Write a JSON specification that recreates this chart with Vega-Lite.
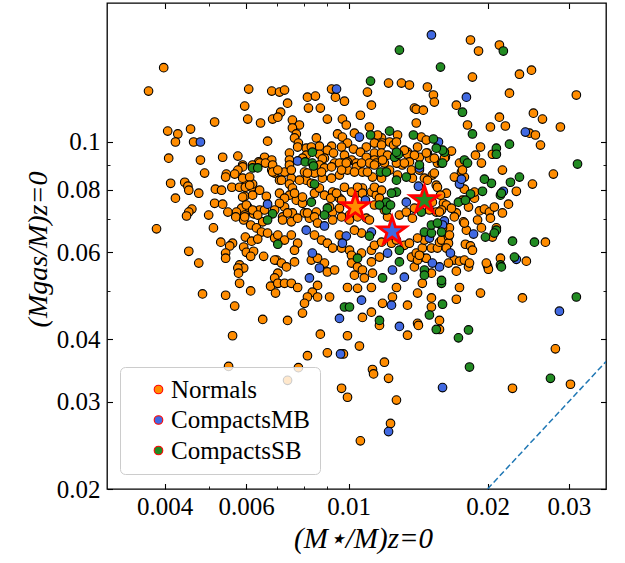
{
  "$schema": "https://vega.github.io/schema/vega-lite/v6.json",
  "width": 499,
  "height": 486,
  "autosize": {"type": "none"},
  "padding": {"left": 107, "top": 3, "right": 19, "bottom": 74},
  "background": "white",
  "datasets": {
    "pts": [
      {"x":0.00398,"y":0.141,"g":"N"},{"x":0.00369,"y":0.1265,"g":"N"},{"x":0.00608,"y":0.1277,"g":"N"},{"x":0.00682,"y":0.1265,"g":"N"},
      {"x":0.00709,"y":0.1259,"g":"N"},{"x":0.00727,"y":0.1271,"g":"N"},{"x":0.00596,"y":0.118,"g":"N"},{"x":0.00605,"y":0.1111,"g":"N"},
      {"x":0.00645,"y":0.1091,"g":"N"},{"x":0.00685,"y":0.1111,"g":"N"},{"x":0.00713,"y":0.1147,"g":"N"},{"x":0.00703,"y":0.1121,"g":"N"},
      {"x":0.00738,"y":0.1196,"g":"N"},{"x":0.00513,"y":0.1096,"g":"N"},{"x":0.00406,"y":0.1051,"g":"N"},{"x":0.00427,"y":0.1037,"g":"N"},
      {"x":0.00455,"y":0.1061,"g":"N"},{"x":0.00422,"y":0.0999,"g":"N"},{"x":0.00462,"y":0.0999,"g":"N"},{"x":0.00668,"y":0.1003,"g":"N"},
      {"x":0.01221,"y":0.1313,"g":"N"},{"x":0.01302,"y":0.1313,"g":"N"},{"x":0.01355,"y":0.1301,"g":"N"},{"x":0.01482,"y":0.1289,"g":"N"},
      {"x":0.01527,"y":0.1242,"g":"N"},{"x":0.01534,"y":0.1202,"g":"N"},{"x":0.01099,"y":0.1259,"g":"N"},{"x":0.01121,"y":0.1185,"g":"N"},
      {"x":0.00919,"y":0.1277,"g":"N"},{"x":0.00937,"y":0.123,"g":"N"},{"x":0.0098,"y":0.1207,"g":"N"},{"x":0.00815,"y":0.123,"g":"N"},
      {"x":0.00848,"y":0.1236,"g":"N"},{"x":0.00819,"y":0.1169,"g":"N"},{"x":0.00869,"y":0.1169,"g":"N"},{"x":0.009,"y":0.1111,"g":"N"},
      {"x":0.01061,"y":0.1131,"g":"N"},{"x":0.0097,"y":0.1111,"g":"N"},{"x":0.00989,"y":0.1081,"g":"N"},{"x":0.01389,"y":0.1169,"g":"N"},
      {"x":0.01402,"y":0.1163,"g":"N"},{"x":0.01452,"y":0.1158,"g":"N"},{"x":0.01402,"y":0.1091,"g":"N"},{"x":0.0111,"y":0.1071,"g":"N"},
      {"x":0.00756,"y":0.1106,"g":"N"},{"x":0.00783,"y":0.1081,"g":"N"},{"x":0.00756,"y":0.1066,"g":"N"},{"x":0.01837,"y":0.1603,"g":"N"},
      {"x":0.01912,"y":0.1523,"g":"N"},{"x":0.02122,"y":0.1566,"g":"N"},{"x":0.01855,"y":0.135,"g":"N"},{"x":0.02345,"y":0.1368,"g":"N"},
      {"x":0.0249,"y":0.1394,"g":"N"},{"x":0.02231,"y":0.1253,"g":"N"},{"x":0.01712,"y":0.1185,"g":"N"},{"x":0.03114,"y":0.1242,"g":"N"},
      {"x":0.02514,"y":0.1142,"g":"N"},{"x":0.0263,"y":0.1111,"g":"N"},{"x":0.02122,"y":0.1121,"g":"N"},{"x":0.02186,"y":0.1076,"g":"N"},
      {"x":0.02029,"y":0.1071,"g":"N"},{"x":0.0181,"y":0.1081,"g":"N"},{"x":0.02876,"y":0.1071,"g":"N"},{"x":0.02465,"y":0.1041,"g":"N"},
      {"x":0.02539,"y":0.1032,"g":"N"},{"x":0.02604,"y":0.0985,"g":"N"},{"x":0.01931,"y":0.0976,"g":"N"},{"x":0.02049,"y":0.0944,"g":"N"},
      {"x":0.01883,"y":0.094,"g":"N"},{"x":0.01671,"y":0.0958,"g":"N"},{"x":0.01621,"y":0.0931,"g":"N"},{"x":0.01739,"y":0.0906,"g":"N"},
      {"x":0.0194,"y":0.0906,"g":"N"},{"x":0.00771,"y":0.1037,"g":"N"},{"x":0.00764,"y":0.1018,"g":"N"},{"x":0.00779,"y":0.0994,"g":"N"},
      {"x":0.00852,"y":0.1018,"g":"N"},{"x":0.00947,"y":0.1037,"g":"N"},{"x":0.0097,"y":0.1022,"g":"N"},{"x":0.00995,"y":0.0994,"g":"N"},
      {"x":0.0103,"y":0.1041,"g":"N"},{"x":0.01277,"y":0.1032,"g":"N"},{"x":0.01438,"y":0.1022,"g":"N"},{"x":0.01179,"y":0.1018,"g":"N"},
      {"x":0.01185,"y":0.0994,"g":"N"},{"x":0.01227,"y":0.0999,"g":"N"},{"x":0.01138,"y":0.0994,"g":"N"},{"x":0.01179,"y":0.0985,"g":"N"},
      {"x":0.01252,"y":0.0985,"g":"N"},{"x":0.01342,"y":0.0953,"g":"N"},{"x":0.01411,"y":0.0976,"g":"N"},{"x":0.01424,"y":0.0931,"g":"N"},
      {"x":0.01482,"y":0.0949,"g":"N"},{"x":0.01497,"y":0.0927,"g":"N"},{"x":0.01093,"y":0.0976,"g":"N"},{"x":0.01025,"y":0.0967,"g":"N"},
      {"x":0.01061,"y":0.0953,"g":"N"},{"x":0.01093,"y":0.0931,"g":"N"},{"x":0.00966,"y":0.0976,"g":"N"},{"x":0.0098,"y":0.094,"g":"N"},
      {"x":0.00919,"y":0.098,"g":"N"},{"x":0.009,"y":0.0962,"g":"N"},{"x":0.00928,"y":0.0949,"g":"N"},{"x":0.00865,"y":0.098,"g":"N"},
      {"x":0.00865,"y":0.0944,"g":"N"},{"x":0.00887,"y":0.0927,"g":"N"},{"x":0.0081,"y":0.0971,"g":"N"},{"x":0.00831,"y":0.0976,"g":"N"},
      {"x":0.0081,"y":0.094,"g":"N"},{"x":0.00795,"y":0.0927,"g":"N"},{"x":0.00776,"y":0.0976,"g":"N"},{"x":0.00745,"y":0.0949,"g":"N"},
      {"x":0.00878,"y":0.0923,"g":"N"},{"x":0.00933,"y":0.0906,"g":"N"},{"x":0.0097,"y":0.0906,"g":"N"},{"x":0.01015,"y":0.0919,"g":"N"},
      {"x":0.0104,"y":0.0906,"g":"N"},{"x":0.01138,"y":0.0949,"g":"N"},{"x":0.01179,"y":0.0949,"g":"N"},{"x":0.01215,"y":0.094,"g":"N"},
      {"x":0.01342,"y":0.0944,"g":"N"},{"x":0.01389,"y":0.094,"g":"N"},{"x":0.01138,"y":0.0919,"g":"N"},{"x":0.01196,"y":0.0906,"g":"N"},
      {"x":0.01277,"y":0.0906,"g":"N"},{"x":0.01355,"y":0.0911,"g":"N"},{"x":0.01558,"y":0.0906,"g":"N"},{"x":0.01156,"y":0.1032,"g":"N"},
      {"x":0.0127,"y":0.0999,"g":"N"},{"x":0.01321,"y":0.0962,"g":"N"},{"x":0.01474,"y":0.1008,"g":"N"},{"x":0.01534,"y":0.0927,"g":"N"},
      {"x":0.00408,"y":0.0927,"g":"N"},{"x":0.00478,"y":0.0919,"g":"N"},{"x":0.00534,"y":0.0931,"g":"N"},{"x":0.00576,"y":0.0936,"g":"N"},
      {"x":0.00658,"y":0.0931,"g":"N"},{"x":0.00639,"y":0.0911,"g":"N"},{"x":0.00682,"y":0.0919,"g":"N"},{"x":0.0062,"y":0.0898,"g":"N"},
      {"x":0.0059,"y":0.0898,"g":"N"},{"x":0.00745,"y":0.0919,"g":"N"},{"x":0.0059,"y":0.089,"g":"N"},{"x":0.00576,"y":0.0877,"g":"N"},
      {"x":0.00642,"y":0.0906,"g":"N"},{"x":0.00661,"y":0.0906,"g":"N"},{"x":0.00682,"y":0.0877,"g":"N"},{"x":0.00692,"y":0.0865,"g":"N"},
      {"x":0.00488,"y":0.0865,"g":"N"},{"x":0.00544,"y":0.0861,"g":"N"},{"x":0.00542,"y":0.0849,"g":"N"},{"x":0.00567,"y":0.0861,"g":"N"},
      {"x":0.00601,"y":0.0833,"g":"N"},{"x":0.00412,"y":0.0825,"g":"N"},{"x":0.00442,"y":0.0829,"g":"N"},{"x":0.00449,"y":0.0814,"g":"N"},
      {"x":0.00451,"y":0.0799,"g":"N"},{"x":0.00474,"y":0.0788,"g":"N"},{"x":0.00515,"y":0.0803,"g":"N"},{"x":0.00531,"y":0.0799,"g":"N"},
      {"x":0.00559,"y":0.081,"g":"N"},{"x":0.00581,"y":0.081,"g":"N"},{"x":0.00598,"y":0.081,"g":"N"},{"x":0.00617,"y":0.081,"g":"N"},
      {"x":0.0062,"y":0.0822,"g":"N"},{"x":0.00596,"y":0.0777,"g":"N"},{"x":0.00664,"y":0.0777,"g":"N"},{"x":0.00709,"y":0.0837,"g":"N"},
      {"x":0.00422,"y":0.077,"g":"N"},{"x":0.00513,"y":0.0752,"g":"N"},{"x":0.00534,"y":0.0749,"g":"N"},{"x":0.00605,"y":0.0739,"g":"N"},
      {"x":0.00587,"y":0.0735,"g":"N"},{"x":0.00572,"y":0.0722,"g":"N"},{"x":0.00548,"y":0.0722,"g":"N"},{"x":0.00458,"y":0.0732,"g":"N"},
      {"x":0.00451,"y":0.0722,"g":"N"},{"x":0.00446,"y":0.0709,"g":"N"},{"x":0.00498,"y":0.0712,"g":"N"},{"x":0.0057,"y":0.0706,"g":"N"},
      {"x":0.00596,"y":0.0712,"g":"N"},{"x":0.00623,"y":0.0716,"g":"N"},{"x":0.00642,"y":0.0729,"g":"N"},{"x":0.00658,"y":0.0729,"g":"N"},
      {"x":0.00593,"y":0.0696,"g":"N"},{"x":0.00614,"y":0.068,"g":"N"},{"x":0.00632,"y":0.0671,"g":"N"},{"x":0.00652,"y":0.069,"g":"N"},
      {"x":0.00384,"y":0.0668,"g":"N"},{"x":0.0051,"y":0.0671,"g":"N"},{"x":0.00648,"y":0.0658,"g":"N"},{"x":0.00668,"y":0.0655,"g":"N"},
      {"x":0.00692,"y":0.064,"g":"N"},{"x":0.00598,"y":0.0643,"g":"N"},{"x":0.00617,"y":0.0631,"g":"N"},{"x":0.00636,"y":0.0637,"g":"N"},
      {"x":0.00529,"y":0.0628,"g":"N"},{"x":0.00561,"y":0.0625,"g":"N"},{"x":0.00553,"y":0.0617,"g":"N"},{"x":0.00593,"y":0.0614,"g":"N"},
      {"x":0.00601,"y":0.0599,"g":"N"},{"x":0.00623,"y":0.0602,"g":"N"},{"x":0.00451,"y":0.0602,"g":"N"},{"x":0.00542,"y":0.0597,"g":"N"},
      {"x":0.00542,"y":0.0583,"g":"N"},{"x":0.00614,"y":0.0588,"g":"N"},{"x":0.00655,"y":0.0588,"g":"N"},{"x":0.00699,"y":0.0578,"g":"N"},
      {"x":0.00474,"y":0.057,"g":"N"},{"x":0.00581,"y":0.0565,"g":"N"},{"x":0.00593,"y":0.0557,"g":"N"},{"x":0.00576,"y":0.0557,"g":"N"},
      {"x":0.00578,"y":0.0544,"g":"N"},{"x":0.00581,"y":0.0519,"g":"N"},{"x":0.00678,"y":0.0512,"g":"N"},{"x":0.00703,"y":0.0519,"g":"N"},
      {"x":0.00483,"y":0.0494,"g":"N"},{"x":0.00542,"y":0.0491,"g":"N"},{"x":0.00614,"y":0.0501,"g":"N"},{"x":0.00695,"y":0.0496,"g":"N"},
      {"x":0.00567,"y":0.0467,"g":"N"},{"x":0.00652,"y":0.0439,"g":"N"},{"x":0.00685,"y":0.0898,"g":"N"},{"x":0.00685,"y":0.0869,"g":"N"},
      {"x":0.00727,"y":0.0869,"g":"N"},{"x":0.00745,"y":0.0898,"g":"N"},{"x":0.00752,"y":0.0845,"g":"N"},{"x":0.00745,"y":0.0822,"g":"N"},
      {"x":0.00756,"y":0.0807,"g":"N"},{"x":0.00716,"y":0.0837,"g":"N"},{"x":0.00803,"y":0.0869,"g":"N"},{"x":0.0081,"y":0.0837,"g":"N"},
      {"x":0.00831,"y":0.0825,"g":"N"},{"x":0.00844,"y":0.0865,"g":"N"},{"x":0.00865,"y":0.0898,"g":"N"},{"x":0.00887,"y":0.0886,"g":"N"},
      {"x":0.00919,"y":0.089,"g":"N"},{"x":0.00956,"y":0.0906,"g":"N"},{"x":0.00995,"y":0.0911,"g":"N"},{"x":0.00878,"y":0.0845,"g":"N"},
      {"x":0.00919,"y":0.0845,"g":"N"},{"x":0.00956,"y":0.0857,"g":"N"},{"x":0.00995,"y":0.0877,"g":"N"},{"x":0.0104,"y":0.089,"g":"N"},
      {"x":0.01072,"y":0.0869,"g":"N"},{"x":0.0111,"y":0.0906,"g":"N"},{"x":0.01149,"y":0.0906,"g":"N"},{"x":0.01185,"y":0.0919,"g":"N"},
      {"x":0.01127,"y":0.0849,"g":"N"},{"x":0.01179,"y":0.0845,"g":"N"},{"x":0.01308,"y":0.0898,"g":"N"},{"x":0.01375,"y":0.0845,"g":"N"},
      {"x":0.0146,"y":0.0845,"g":"N"},{"x":0.01519,"y":0.0857,"g":"N"},{"x":0.01549,"y":0.0818,"g":"N"},{"x":0.0059,"y":0.0845,"g":"N"},
      {"x":0.00611,"y":0.0849,"g":"N"},{"x":0.00611,"y":0.0818,"g":"N"},{"x":0.00642,"y":0.0799,"g":"N"},{"x":0.0062,"y":0.0781,"g":"N"},
      {"x":0.0059,"y":0.0774,"g":"N"},{"x":0.00745,"y":0.0781,"g":"N"},{"x":0.00771,"y":0.0763,"g":"N"},{"x":0.00795,"y":0.0752,"g":"N"},
      {"x":0.00887,"y":0.0781,"g":"N"},{"x":0.00924,"y":0.0792,"g":"N"},{"x":0.00956,"y":0.077,"g":"N"},{"x":0.00852,"y":0.0722,"g":"N"},
      {"x":0.00924,"y":0.0722,"g":"N"},{"x":0.00956,"y":0.0735,"g":"N"},{"x":0.01005,"y":0.0712,"g":"N"},{"x":0.01121,"y":0.0792,"g":"N"},
      {"x":0.01149,"y":0.0781,"g":"N"},{"x":0.01072,"y":0.0807,"g":"N"},{"x":0.0104,"y":0.0788,"g":"N"},{"x":0.01215,"y":0.0706,"g":"N"},
      {"x":0.01289,"y":0.0712,"g":"N"},{"x":0.01334,"y":0.0722,"g":"N"},{"x":0.01093,"y":0.0702,"g":"N"},{"x":0.01389,"y":0.0735,"g":"N"},
      {"x":0.01375,"y":0.0702,"g":"N"},{"x":0.01519,"y":0.0756,"g":"N"},{"x":0.01549,"y":0.0722,"g":"N"},{"x":0.00601,"y":0.0746,"g":"N"},
      {"x":0.0062,"y":0.0729,"g":"N"},{"x":0.00596,"y":0.0706,"g":"N"},{"x":0.00636,"y":0.0712,"g":"N"},{"x":0.00727,"y":0.0739,"g":"N"},
      {"x":0.0072,"y":0.0706,"g":"N"},{"x":0.00756,"y":0.0719,"g":"N"},{"x":0.00803,"y":0.0719,"g":"N"},{"x":0.00823,"y":0.0702,"g":"N"},
      {"x":0.00703,"y":0.0877,"g":"N"},{"x":0.00752,"y":0.0877,"g":"N"},{"x":0.00783,"y":0.0837,"g":"N"},{"x":0.00815,"y":0.0865,"g":"N"},
      {"x":0.00874,"y":0.0869,"g":"N"},{"x":0.00966,"y":0.0877,"g":"N"},{"x":0.00989,"y":0.0906,"g":"N"},{"x":0.0103,"y":0.0869,"g":"N"},
      {"x":0.01067,"y":0.0906,"g":"N"},{"x":0.01099,"y":0.0869,"g":"N"},{"x":0.01138,"y":0.0898,"g":"N"},{"x":0.01227,"y":0.0877,"g":"N"},
      {"x":0.0127,"y":0.0906,"g":"N"},{"x":0.01277,"y":0.0857,"g":"N"},{"x":0.01321,"y":0.0906,"g":"N"},{"x":0.01369,"y":0.0877,"g":"N"},
      {"x":0.01424,"y":0.0877,"g":"N"},{"x":0.01482,"y":0.0837,"g":"N"},{"x":0.01558,"y":0.081,"g":"N"},{"x":0.01534,"y":0.0865,"g":"N"},
      {"x":0.0159,"y":0.0906,"g":"N"},{"x":0.00709,"y":0.0788,"g":"N"},{"x":0.00727,"y":0.077,"g":"N"},{"x":0.00709,"y":0.0752,"g":"N"},
      {"x":0.00692,"y":0.0729,"g":"N"},{"x":0.00764,"y":0.0788,"g":"N"},{"x":0.00795,"y":0.0774,"g":"N"},{"x":0.00915,"y":0.077,"g":"N"},
      {"x":0.00942,"y":0.0788,"g":"N"},{"x":0.00966,"y":0.0763,"g":"N"},{"x":0.0091,"y":0.0739,"g":"N"},{"x":0.00844,"y":0.0788,"g":"N"},
      {"x":0.00865,"y":0.0807,"g":"N"},{"x":0.0098,"y":0.081,"g":"N"},{"x":0.01015,"y":0.0792,"g":"N"},{"x":0.01046,"y":0.081,"g":"N"},
      {"x":0.01072,"y":0.0788,"g":"N"},{"x":0.01138,"y":0.081,"g":"N"},{"x":0.01179,"y":0.0799,"g":"N"},{"x":0.01138,"y":0.0746,"g":"N"},
      {"x":0.01167,"y":0.077,"g":"N"},{"x":0.01196,"y":0.0729,"g":"N"},{"x":0.00738,"y":0.0719,"g":"N"},{"x":0.0072,"y":0.0696,"g":"N"},
      {"x":0.00752,"y":0.069,"g":"N"},{"x":0.00776,"y":0.0702,"g":"N"},{"x":0.00815,"y":0.0719,"g":"N"},{"x":0.00844,"y":0.0706,"g":"N"},
      {"x":0.00857,"y":0.0686,"g":"N"},{"x":0.00924,"y":0.0696,"g":"N"},{"x":0.00966,"y":0.0706,"g":"N"},{"x":0.01005,"y":0.0696,"g":"N"},
      {"x":0.01046,"y":0.0706,"g":"N"},{"x":0.0111,"y":0.0696,"g":"N"},{"x":0.01067,"y":0.0655,"g":"N"},{"x":0.0103,"y":0.0664,"g":"N"},
      {"x":0.00956,"y":0.0649,"g":"N"},{"x":0.00703,"y":0.0649,"g":"N"},{"x":0.00727,"y":0.0634,"g":"N"},{"x":0.00752,"y":0.0649,"g":"N"},
      {"x":0.00776,"y":0.0625,"g":"N"},{"x":0.00764,"y":0.0605,"g":"N"},{"x":0.00844,"y":0.0649,"g":"N"},{"x":0.00874,"y":0.0634,"g":"N"},
      {"x":0.009,"y":0.0625,"g":"N"},{"x":0.00924,"y":0.0611,"g":"N"},{"x":0.00966,"y":0.0611,"g":"N"},{"x":0.01005,"y":0.0605,"g":"N"},
      {"x":0.01015,"y":0.0591,"g":"N"},{"x":0.01067,"y":0.0597,"g":"N"},{"x":0.01121,"y":0.0605,"g":"N"},{"x":0.01138,"y":0.0619,"g":"N"},
      {"x":0.01179,"y":0.0628,"g":"N"},{"x":0.01239,"y":0.0625,"g":"N"},{"x":0.0127,"y":0.0634,"g":"N"},{"x":0.01321,"y":0.0619,"g":"N"},
      {"x":0.01355,"y":0.0625,"g":"N"},{"x":0.01369,"y":0.0586,"g":"N"},{"x":0.01402,"y":0.0597,"g":"N"},{"x":0.01438,"y":0.0586,"g":"N"},
      {"x":0.01445,"y":0.0611,"g":"N"},{"x":0.01512,"y":0.0611,"g":"N"},{"x":0.01558,"y":0.0611,"g":"N"},{"x":0.01574,"y":0.0628,"g":"N"},
      {"x":0.0146,"y":0.0634,"g":"N"},{"x":0.01411,"y":0.064,"g":"N"},{"x":0.01389,"y":0.056,"g":"N"},{"x":0.01411,"y":0.0578,"g":"N"},
      {"x":0.01512,"y":0.0544,"g":"N"},{"x":0.01445,"y":0.0519,"g":"N"},{"x":0.00692,"y":0.0578,"g":"N"},{"x":0.00716,"y":0.057,"g":"N"},
      {"x":0.00734,"y":0.056,"g":"N"},{"x":0.00703,"y":0.0544,"g":"N"},{"x":0.00692,"y":0.0532,"g":"N"},{"x":0.00764,"y":0.0573,"g":"N"},
      {"x":0.00831,"y":0.0578,"g":"N"},{"x":0.00857,"y":0.0583,"g":"N"},{"x":0.00887,"y":0.057,"g":"N"},{"x":0.009,"y":0.0547,"g":"N"},
      {"x":0.00933,"y":0.0552,"g":"N"},{"x":0.01015,"y":0.057,"g":"N"},{"x":0.01046,"y":0.056,"g":"N"},{"x":0.01072,"y":0.0552,"g":"N"},
      {"x":0.0103,"y":0.0539,"g":"N"},{"x":0.01082,"y":0.0532,"g":"N"},{"x":0.01127,"y":0.0544,"g":"N"},{"x":0.01121,"y":0.0573,"g":"N"},
      {"x":0.01167,"y":0.0586,"g":"N"},{"x":0.00703,"y":0.0519,"g":"N"},{"x":0.00727,"y":0.0519,"g":"N"},{"x":0.00752,"y":0.0519,"g":"N"},
      {"x":0.00776,"y":0.0509,"g":"N"},{"x":0.00857,"y":0.0514,"g":"N"},{"x":0.00835,"y":0.0498,"g":"N"},{"x":0.00815,"y":0.0487,"g":"N"},
      {"x":0.00857,"y":0.0487,"g":"N"},{"x":0.0091,"y":0.0487,"g":"N"},{"x":0.00803,"y":0.0473,"g":"N"},{"x":0.00795,"y":0.0452,"g":"N"},
      {"x":0.00738,"y":0.0437,"g":"N"},{"x":0.00995,"y":0.0509,"g":"N"},{"x":0.01046,"y":0.0507,"g":"N"},{"x":0.01121,"y":0.0509,"g":"N"},
      {"x":0.0127,"y":0.0509,"g":"N"},{"x":0.01072,"y":0.0443,"g":"N"},{"x":0.01121,"y":0.0454,"g":"N"},{"x":0.01185,"y":0.0473,"g":"N"},
      {"x":0.01245,"y":0.0487,"g":"N"},{"x":0.01342,"y":0.0469,"g":"N"},{"x":0.01411,"y":0.0431,"g":"N"},{"x":0.01512,"y":0.0465,"g":"N"},
      {"x":0.01411,"y":0.0496,"g":"N"},{"x":0.01512,"y":0.0485,"g":"N"},{"x":0.02777,"y":0.0861,"g":"N"},{"x":0.02502,"y":0.0822,"g":"N"},
      {"x":0.02309,"y":0.0795,"g":"N"},{"x":0.02154,"y":0.0877,"g":"N"},{"x":0.0222,"y":0.0749,"g":"N"},{"x":0.01756,"y":0.0869,"g":"N"},
      {"x":0.01695,"y":0.0849,"g":"N"},{"x":0.01782,"y":0.0803,"g":"N"},{"x":0.01874,"y":0.077,"g":"N"},{"x":0.01765,"y":0.0763,"g":"N"},
      {"x":0.01629,"y":0.0788,"g":"N"},{"x":0.01605,"y":0.0752,"g":"N"},{"x":0.01629,"y":0.0746,"g":"N"},{"x":0.0159,"y":0.0729,"g":"N"},
      {"x":0.01819,"y":0.0739,"g":"N"},{"x":0.01921,"y":0.0726,"g":"N"},{"x":0.01969,"y":0.0732,"g":"N"},{"x":0.02019,"y":0.0722,"g":"N"},
      {"x":0.02069,"y":0.0739,"g":"N"},{"x":0.02029,"y":0.0702,"g":"N"},{"x":0.02154,"y":0.0719,"g":"N"},{"x":0.01712,"y":0.0719,"g":"N"},
      {"x":0.01695,"y":0.0706,"g":"N"},{"x":0.01654,"y":0.0671,"g":"N"},{"x":0.01774,"y":0.069,"g":"N"},{"x":0.018,"y":0.0664,"g":"N"},
      {"x":0.0209,"y":0.0671,"g":"N"},{"x":0.02049,"y":0.0643,"g":"N"},{"x":0.02669,"y":0.0628,"g":"N"},{"x":0.0159,"y":0.0634,"g":"N"},
      {"x":0.01646,"y":0.0643,"g":"N"},{"x":0.01646,"y":0.0625,"g":"N"},{"x":0.01629,"y":0.0611,"g":"N"},{"x":0.01791,"y":0.0622,"g":"N"},
      {"x":0.01837,"y":0.0617,"g":"N"},{"x":0.01855,"y":0.0605,"g":"N"},{"x":0.01695,"y":0.0578,"g":"N"},{"x":0.01739,"y":0.0575,"g":"N"},
      {"x":0.01646,"y":0.057,"g":"N"},{"x":0.01712,"y":0.0549,"g":"N"},{"x":0.01819,"y":0.056,"g":"N"},{"x":0.02,"y":0.0562,"g":"N"},
      {"x":0.02009,"y":0.0554,"g":"N"},{"x":0.02133,"y":0.0583,"g":"N"},{"x":0.02427,"y":0.0575,"g":"N"},{"x":0.01739,"y":0.0509,"g":"N"},
      {"x":0.01931,"y":0.0496,"g":"N"},{"x":0.01712,"y":0.0482,"g":"N"},{"x":0.0238,"y":0.0485,"g":"N"},{"x":0.01574,"y":0.0437,"g":"N"},
      {"x":0.01782,"y":0.0849,"g":"N"},{"x":0.01765,"y":0.0877,"g":"N"},{"x":0.01874,"y":0.0792,"g":"N"},{"x":0.01903,"y":0.0696,"g":"N"},
      {"x":0.0194,"y":0.0671,"g":"N"},{"x":0.01782,"y":0.0686,"g":"N"},{"x":0.01782,"y":0.0578,"g":"N"},{"x":0.01828,"y":0.057,"g":"N"},
      {"x":0.01988,"y":0.057,"g":"N"},{"x":0.01474,"y":0.0949,"g":"N"},{"x":0.01613,"y":0.0927,"g":"N"},{"x":0.01582,"y":0.0781,"g":"N"},
      {"x":0.01671,"y":0.0735,"g":"N"},{"x":0.01497,"y":0.0729,"g":"N"},{"x":0.01574,"y":0.0722,"g":"N"},{"x":0.01598,"y":0.0671,"g":"N"},
      {"x":0.01654,"y":0.0649,"g":"N"},{"x":0.01474,"y":0.0583,"g":"N"},{"x":0.01424,"y":0.0591,"g":"N"},{"x":0.00561,"y":0.0407,"g":"N"},
      {"x":0.0055,"y":0.0353,"g":"N"},{"x":0.00738,"y":0.0331,"g":"N"},{"x":0.00779,"y":0.0351,"g":"N"},{"x":0.00815,"y":0.0371,"g":"N"},
      {"x":0.00869,"y":0.041,"g":"N"},{"x":0.009,"y":0.0376,"g":"N"},{"x":0.00975,"y":0.0374,"g":"N"},{"x":0.00995,"y":0.0407,"g":"N"},
      {"x":0.01056,"y":0.0388,"g":"N"},{"x":0.01167,"y":0.0427,"g":"N"},{"x":0.01342,"y":0.0408,"g":"N"},{"x":0.01417,"y":0.0427,"g":"N"},
      {"x":0.01127,"y":0.0348,"g":"N"},{"x":0.01133,"y":0.0341,"g":"N"},{"x":0.01196,"y":0.036,"g":"N"},{"x":0.01221,"y":0.0334,"g":"N"},
      {"x":0.00966,"y":0.0319,"g":"N"},{"x":0.00995,"y":0.0306,"g":"N"},{"x":0.0127,"y":0.0302,"g":"N"},{"x":0.01233,"y":0.0271,"g":"N"},
      {"x":0.01061,"y":0.025,"g":"N"},{"x":0.01574,"y":0.0419,"g":"N"},{"x":0.02265,"y":0.0319,"g":"N"},{"x":0.02805,"y":0.0383,"g":"N"},
      {"x":0.03024,"y":0.0325,"g":"N"},
      {"x":0.00478,"y":0.0999,"g":"MB"},{"x":0.01512,"y":0.1641,"g":"MB"},{"x":0.00942,"y":0.1277,"g":"MB"},{"x":0.018,"y":0.123,"g":"MB"},
      {"x":0.01056,"y":0.1022,"g":"MB"},{"x":0.01566,"y":0.0999,"g":"MB"},{"x":0.00776,"y":0.0915,"g":"MB"},{"x":0.00668,"y":0.0749,"g":"MB"},
      {"x":0.02415,"y":0.1046,"g":"MB"},{"x":0.01739,"y":0.0822,"g":"MB"},{"x":0.01756,"y":0.0841,"g":"MB"},{"x":0.02164,"y":0.0795,"g":"MB"},
      {"x":0.01613,"y":0.0693,"g":"MB"},{"x":0.01598,"y":0.068,"g":"MB"},{"x":0.01865,"y":0.0652,"g":"MB"},{"x":0.01662,"y":0.0597,"g":"MB"},
      {"x":0.01574,"y":0.056,"g":"MB"},{"x":0.02309,"y":0.058,"g":"MB"},{"x":0.02862,"y":0.0456,"g":"MB"},{"x":0.01424,"y":0.0886,"g":"MB"},
      {"x":0.01417,"y":0.0814,"g":"MB"},{"x":0.01334,"y":0.0756,"g":"MB"},{"x":0.01088,"y":0.0763,"g":"MB"},{"x":0.0081,"y":0.0664,"g":"MB"},
      {"x":0.00887,"y":0.0677,"g":"MB"},{"x":0.01121,"y":0.0658,"g":"MB"},{"x":0.00989,"y":0.0646,"g":"MB"},{"x":0.0097,"y":0.0625,"g":"MB"},
      {"x":0.00835,"y":0.0597,"g":"MB"},{"x":0.01215,"y":0.0597,"g":"MB"},{"x":0.01245,"y":0.0552,"g":"MB"},{"x":0.01321,"y":0.0534,"g":"MB"},
      {"x":0.01497,"y":0.064,"g":"MB"},{"x":0.01519,"y":0.057,"g":"MB"},{"x":0.00865,"y":0.0557,"g":"MB"},{"x":0.00823,"y":0.0532,"g":"MB"},
      {"x":0.01067,"y":0.048,"g":"MB"},{"x":0.00956,"y":0.0441,"g":"MB"},{"x":0.01239,"y":0.0469,"g":"MB"},{"x":0.01289,"y":0.0425,"g":"MB"},
      {"x":0.00961,"y":0.0374,"g":"MB"},{"x":0.01598,"y":0.032,"g":"MB"},{"x":0.01221,"y":0.0261,"g":"MB"},
      {"x":0.01289,"y":0.153,"g":"SB"},{"x":0.01582,"y":0.1414,"g":"SB"},{"x":0.02164,"y":0.1523,"g":"SB"},{"x":0.01116,"y":0.1325,"g":"SB"},
      {"x":0.01765,"y":0.1147,"g":"SB"},{"x":0.01855,"y":0.1037,"g":"SB"},{"x":0.02231,"y":0.0989,"g":"SB"},{"x":0.0209,"y":0.0971,"g":"SB"},
      {"x":0.0209,"y":0.0944,"g":"SB"},{"x":0.01613,"y":0.0953,"g":"SB"},{"x":0.01782,"y":0.0919,"g":"SB"},{"x":0.0181,"y":0.0906,"g":"SB"},
      {"x":0.03132,"y":0.0902,"g":"SB"},{"x":0.02345,"y":0.0849,"g":"SB"},{"x":0.02242,"y":0.0829,"g":"SB"},{"x":0.02039,"y":0.0825,"g":"SB"},
      {"x":0.01969,"y":0.0841,"g":"SB"},{"x":0.0195,"y":0.0795,"g":"SB"},{"x":0.02133,"y":0.0781,"g":"SB"},{"x":0.02143,"y":0.0788,"g":"SB"},
      {"x":0.01837,"y":0.0785,"g":"SB"},{"x":0.0173,"y":0.0756,"g":"SB"},{"x":0.01791,"y":0.0763,"g":"SB"},{"x":0.0209,"y":0.0664,"g":"SB"},
      {"x":0.02069,"y":0.0655,"g":"SB"},{"x":0.01979,"y":0.0643,"g":"SB"},{"x":0.02265,"y":0.0631,"g":"SB"},{"x":0.02527,"y":0.0628,"g":"SB"},
      {"x":0.02287,"y":0.0586,"g":"SB"},{"x":0.02133,"y":0.0565,"g":"SB"},{"x":0.02143,"y":0.056,"g":"SB"},{"x":0.0159,"y":0.0519,"g":"SB"},
      {"x":0.01598,"y":0.0471,"g":"SB"},{"x":0.03114,"y":0.0487,"g":"SB"},{"x":0.01819,"y":0.0418,"g":"SB"},{"x":0.0173,"y":0.0403,"g":"SB"},
      {"x":0.01828,"y":0.0352,"g":"SB"},{"x":0.02737,"y":0.0334,"g":"SB"},{"x":0.01549,"y":0.0419,"g":"SB"},{"x":0.01116,"y":0.1032,"g":"SB"},
      {"x":0.01227,"y":0.1051,"g":"SB"},{"x":0.01382,"y":0.1032,"g":"SB"},{"x":0.01527,"y":0.1013,"g":"SB"},{"x":0.01598,"y":0.0962,"g":"SB"},
      {"x":0.00835,"y":0.0953,"g":"SB"},{"x":0.00806,"y":0.0911,"g":"SB"},{"x":0.00835,"y":0.0906,"g":"SB"},{"x":0.01258,"y":0.0931,"g":"SB"},
      {"x":0.01283,"y":0.0944,"g":"SB"},{"x":0.01424,"y":0.0898,"g":"SB"},{"x":0.01598,"y":0.0906,"g":"SB"},{"x":0.0062,"y":0.0886,"g":"SB"},
      {"x":0.00636,"y":0.0886,"g":"SB"},{"x":0.00685,"y":0.0716,"g":"SB"},{"x":0.00668,"y":0.0696,"g":"SB"},{"x":0.00703,"y":0.0622,"g":"SB"},
      {"x":0.0084,"y":0.0894,"g":"SB"},{"x":0.00844,"y":0.0822,"g":"SB"},{"x":0.00831,"y":0.0756,"g":"SB"},{"x":0.009,"y":0.0735,"g":"SB"},
      {"x":0.00887,"y":0.0712,"g":"SB"},{"x":0.01173,"y":0.0869,"g":"SB"},{"x":0.01208,"y":0.0869,"g":"SB"},{"x":0.0127,"y":0.0837,"g":"SB"},
      {"x":0.01334,"y":0.0849,"g":"SB"},{"x":0.0127,"y":0.0792,"g":"SB"},{"x":0.01239,"y":0.0788,"g":"SB"},{"x":0.01208,"y":0.0756,"g":"SB"},
      {"x":0.01167,"y":0.0746,"g":"SB"},{"x":0.01208,"y":0.0729,"g":"SB"},{"x":0.0127,"y":0.0953,"g":"SB"},{"x":0.01549,"y":0.0971,"g":"SB"},
      {"x":0.01046,"y":0.0583,"g":"SB"},{"x":0.0111,"y":0.0646,"g":"SB"},{"x":0.01289,"y":0.0605,"g":"SB"},{"x":0.01289,"y":0.0573,"g":"SB"},
      {"x":0.0146,"y":0.0658,"g":"SB"},{"x":0.01512,"y":0.0655,"g":"SB"},{"x":0.01512,"y":0.068,"g":"SB"},{"x":0.01558,"y":0.0686,"g":"SB"},
      {"x":0.0159,"y":0.0658,"g":"SB"},{"x":0.0146,"y":0.0552,"g":"SB"},{"x":0.0146,"y":0.0539,"g":"SB"},{"x":0.0159,"y":0.0526,"g":"SB"},
      {"x":0.0098,"y":0.0465,"g":"SB"},{"x":0.01005,"y":0.0465,"g":"SB"},{"x":0.01167,"y":0.0437,"g":"SB"},{"x":0.01185,"y":0.0532,"g":"SB"},
      {"x":0.01497,"y":0.0448,"g":"SB"},{"x":0.01438,"y":0.0722,"g":"SB"},{"x":0.01233,"y":0.0746,"g":"SB"}
    ],
    "stars": [
      {"x":0.01034,"y":0.0739,"g":"N"},
      {"x":0.01243,"y":0.066,"g":"MB"},
      {"x":0.0146,"y":0.0763,"g":"SB"}
    ],
    "diag": [
      {"x":0.02,"y":0.02},
      {"x":0.0361,"y":0.0361}
    ]
  },
  "layer": [
    {
      "data": {"name": "pts"},
      "mark": {"type": "circle", "size": 74, "opacity": 1, "stroke": "black", "strokeWidth": 1.1},
      "encoding": {
        "x": {
          "field": "x", "type": "quantitative",
          "scale": {"type": "log", "domain": [0.003, 0.0361], "nice": false},
          "axis": {
            "orient": "bottom", "values": [0.004, 0.006, 0.01, 0.02, 0.03], "format": "~g",
            "tickSize": 5.5, "tickWidth": 1.1, "offset": -5.5, "labelPadding": 5,
            "title": "(M⋆/M)z=0", "titleFontSize": 29, "titleFontStyle": "italic",
            "titleX": 256, "titleY": 64, "titleBaseline": "alphabetic"
          }
        },
        "y": {
          "field": "y", "type": "quantitative",
          "scale": {"type": "log", "domain": [0.02, 0.1903], "nice": false},
          "axis": {
            "orient": "left", "values": [0.02, 0.03, 0.04, 0.06, 0.08, 0.1], "format": "~g",
            "tickSize": 5.5, "tickWidth": 1.1, "offset": -5.5, "labelPadding": 7,
            "title": "(Mgas/M)z=0", "titleFontSize": 28, "titleFontStyle": "italic",
            "titleX": -66, "titleY": 246, "titleBaseline": "alphabetic", "titleAngle": 270
          }
        },
        "color": {
          "field": "g", "type": "nominal",
          "scale": {"domain": ["N", "MB", "SB"], "range": ["#ff8c00", "#4169e1", "#228b22"]},
          "legend": {
            "orient": "none", "legendX": 13, "legendY": 364, "title": null,
            "labelExpr": "datum.label == 'N' ? 'Normals' : datum.label == 'MB' ? 'CompactsMB' : 'CompactsSB'",
            "symbolType": "circle", "symbolSize": 74, "symbolStrokeColor": "black", "symbolStrokeWidth": 1.1, "symbolOpacity": 1,
            "labelFont": "Liberation Serif", "labelFontSize": 25, "labelColor": "black",
            "rowPadding": 4.5, "padding": 10, "symbolOffset": 16, "labelOffset": 0,
            "fillColor": "rgba(255,255,255,0.8)", "strokeColor": "#cccccc", "cornerRadius": 5
          }
        }
      }
    },
    {
      "data": {"name": "diag"},
      "mark": {"type": "line", "color": "#1f77b4", "strokeWidth": 1.5, "strokeDash": [6, 3], "clip": true},
      "encoding": {
        "x": {
          "field": "x", "type": "quantitative",
          "scale": {"type": "log", "domain": [0.003, 0.0361], "nice": false},
          "axis": {"orient": "bottom", "values": [0.005, 0.007, 0.008, 0.009], "labels": false, "tickSize": 3, "tickWidth": 0.9, "offset": -3, "title": null}
        },
        "y": {
          "field": "y", "type": "quantitative",
          "scale": {"type": "log", "domain": [0.02, 0.1903], "nice": false},
          "axis": {"orient": "left", "values": [0.05, 0.07, 0.09], "labels": false, "tickSize": 3, "tickWidth": 0.9, "offset": -3, "title": null}
        }
      }
    },
    {
      "data": {"name": "stars"},
      "mark": {
        "type": "point", "filled": true, "opacity": 1, "size": 850, "stroke": "#ff0000", "strokeWidth": 2.8,
        "shape": "M0,-1L0.2245,-0.309L0.951,-0.309L0.363,0.118L0.588,0.809L0,0.382L-0.588,0.809L-0.363,0.118L-0.951,-0.309L-0.2245,-0.309Z"
      },
      "encoding": {
        "x": {
          "field": "x", "type": "quantitative",
          "scale": {"type": "log", "domain": [0.003, 0.0361], "nice": false},
          "axis": {"orient": "top", "values": [0.004, 0.006, 0.01, 0.02, 0.03], "labels": false, "tickSize": 5.5, "tickWidth": 1.1, "offset": -5.5, "title": null}
        },
        "y": {
          "field": "y", "type": "quantitative",
          "scale": {"type": "log", "domain": [0.02, 0.1903], "nice": false},
          "axis": {"orient": "right", "values": [0.02, 0.03, 0.04, 0.06, 0.08, 0.1], "labels": false, "tickSize": 5.5, "tickWidth": 1.1, "offset": -5.5, "title": null}
        },
        "color": {"field": "g", "type": "nominal"}
      }
    },
    {
      "data": {"name": "stars"},
      "mark": {"type": "point", "opacity": 0},
      "encoding": {
        "x": {
          "field": "x", "type": "quantitative",
          "scale": {"type": "log", "domain": [0.003, 0.0361], "nice": false},
          "axis": {"orient": "top", "values": [0.005, 0.007, 0.008, 0.009], "labels": false, "tickSize": 3, "tickWidth": 0.9, "offset": -3, "title": null}
        },
        "y": {
          "field": "y", "type": "quantitative",
          "scale": {"type": "log", "domain": [0.02, 0.1903], "nice": false},
          "axis": {"orient": "right", "values": [0.05, 0.07, 0.09], "labels": false, "tickSize": 3, "tickWidth": 0.9, "offset": -3, "title": null}
        }
      }
    }
  ],
  "resolve": {"axis": {"x": "independent", "y": "independent"}},
  "config": {
    "view": {"stroke": "black", "strokeWidth": 1.3},
    "axis": {
      "domain": false, "grid": false,
      "labelFont": "Liberation Serif", "labelFontSize": 25, "labelColor": "black",
      "labelFlush": false, "labelOverlap": false, "labelBound": false,
      "tickColor": "black",
      "titleFont": "Liberation Serif", "titleColor": "black", "titleFontWeight": "normal"
    },
    "legend": {"labelFont": "Liberation Serif", "labelFontSize": 25, "labelColor": "black"}
  }
}
